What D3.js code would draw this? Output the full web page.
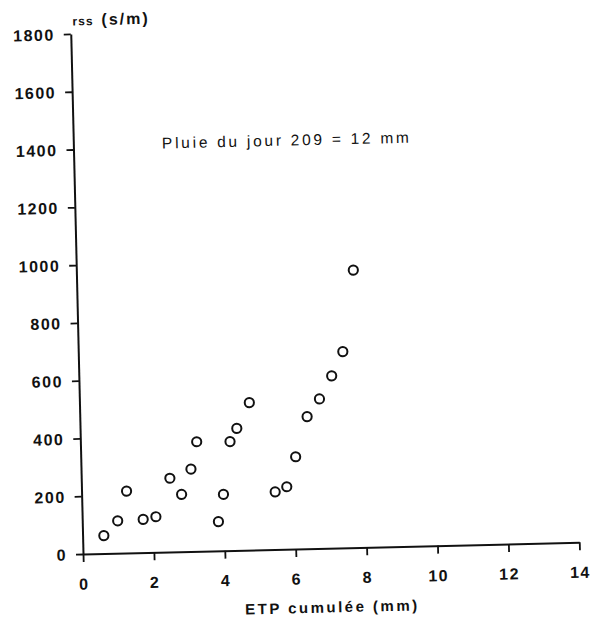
<!DOCTYPE html>
<html>
<head>
<meta charset="utf-8">
<script src="https://cdn.jsdelivr.net/npm/d3@7"></script>
<style>
  html, body { margin: 0; padding: 0; background: #fff; }
  svg { display: block; }
  text { font-family: "Liberation Sans", Arial, sans-serif; fill: #111; }
</style>
</head>
<body>
<script>
// ---- data ----
const etp = [0.6, 1.0, 1.27, 1.72, 2.08, 2.5, 2.82, 3.1, 3.28, 3.84, 4.0, 4.22, 4.42, 4.79, 5.46, 5.79, 6.06, 6.41, 6.77, 7.13, 7.46, 7.81];
const rss = [62, 112, 214, 115, 123, 255, 198, 285, 379, 101, 195, 377, 422, 510, 199, 216, 319, 457, 517, 596, 679, 960];
const xTicks = [0, 2, 4, 6, 8, 10, 12, 14];
const yTicks = [0, 200, 400, 600, 800, 1000, 1200, 1400, 1600, 1800];
const xTitle = "ETP cumulée (mm)";
const yTitleA = "rss";
const yTitleB = "(s/m)";
const note = "Pluie du jour 209 = 12 mm";

// ---- layout ----
const W = 606, H = 623;
const originX = 83, originY = 554;
const plotW = 496.4, plotH = 520.2;
const tilt = -1.35; // scanned page is slightly rotated

const svg = d3.select("body").append("svg")
  .attr("width", W).attr("height", H);
svg.append("rect").attr("width", W).attr("height", H).attr("fill", "#fff");

const g = svg.append("g")
  .attr("transform", `translate(${originX},${originY}) rotate(${tilt})`);

const x = d3.scaleLinear().domain([0, 14]).range([0, plotW]);
const y = d3.scaleLinear().domain([0, 1800]).range([0, -plotH]);

// x axis
const xAxis = g.append("g")
  .call(d3.axisBottom(x).tickValues(xTicks).tickSize(8).tickSizeOuter(0).tickFormat(d3.format("d")));
xAxis.select(".domain").attr("stroke", "#111").attr("stroke-width", 2);
xAxis.selectAll(".tick line").attr("stroke", "#111").attr("stroke-width", 1.8);
xAxis.selectAll(".tick text")
  .attr("y", 30).attr("dy", "0.35em")
  .attr("font-size", 16).attr("font-weight", "bold")
  .attr("letter-spacing", 1.5)
  .attr("font-family", "'Liberation Sans', Arial, sans-serif")
  .attr("fill", "#111");

// y axis
const yAxis = g.append("g")
  .call(d3.axisLeft(y).tickValues(yTicks).tickSize(7).tickSizeOuter(0).tickFormat(d3.format("d")));
yAxis.select(".domain").attr("stroke", "#111").attr("stroke-width", 2);
yAxis.selectAll(".tick line").attr("stroke", "#111").attr("stroke-width", 1.8);
yAxis.selectAll(".tick text")
  .attr("x", -16).attr("dy", "0.35em")
  .attr("font-size", 16).attr("font-weight", "bold")
  .attr("letter-spacing", 1.5)
  .attr("font-family", "'Liberation Sans', Arial, sans-serif")
  .attr("fill", "#111");

// points
g.append("g").selectAll("circle")
  .data(etp.map((v, i) => [v, rss[i]]))
  .join("circle")
  .attr("cx", d => x(d[0]))
  .attr("cy", d => y(d[1]))
  .attr("r", 4.6)
  .attr("fill", "none")
  .attr("stroke", "#111")
  .attr("stroke-width", 2);

// x title
g.append("text")
  .attr("x", x(6.96)).attr("y", 59).attr("dy", "0.35em")
  .attr("text-anchor", "middle")
  .attr("font-size", 15).attr("font-weight", "bold")
  .attr("textLength", 172).attr("lengthAdjust", "spacing")
  .text(xTitle);

// y title
const yt = g.append("text")
  .attr("x", 2).attr("y", y(1800) - 14).attr("dy", "0.35em")
  .attr("font-weight", "bold");
yt.append("tspan").attr("font-size", 12).attr("letter-spacing", 1).text(yTitleA);
yt.append("tspan").attr("dx", 8).attr("font-size", 16).attr("letter-spacing", 2).text(yTitleB);

// annotation
g.append("text")
  .attr("x", x(2.5)).attr("y", y(1415)).attr("dy", "0.35em")
  .attr("font-size", 15.5)
  .attr("textLength", 247).attr("lengthAdjust", "spacing")
  .text(note);
</script>
</body>
</html>
